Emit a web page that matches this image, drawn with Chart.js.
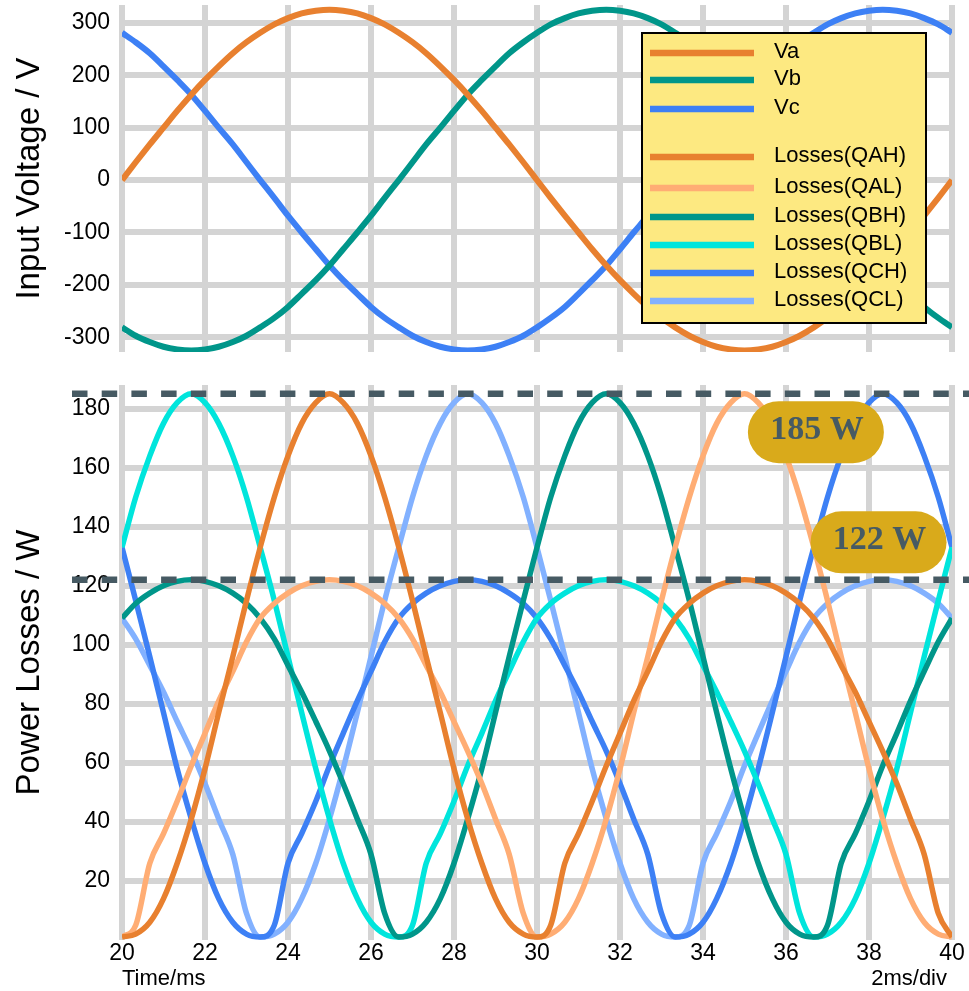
<!DOCTYPE html>
<html>
<head>
<meta charset="utf-8">
<title>Input voltage and switch losses</title>
<script src="https://cdn.jsdelivr.net/npm/chart.js@4.4.1/dist/chart.umd.min.js"></script>
<style>
  html, body { margin: 0; padding: 0; background: #fff; }
  #wrap { position: relative; width: 969px; height: 991px; overflow: hidden; }
  .panel { position: absolute; left: 0; width: 969px; }
  #panelV { top: 0; height: 362px; }
  #panelP { top: 362px; height: 629px; }
</style>
</head>
<body>
<div id="wrap">
  <div class="panel" id="panelV"><canvas id="chartV"></canvas></div>
  <div class="panel" id="panelP"><canvas id="chartP"></canvas></div>
</div>
<script>
// ---- data -------------------------------------------------------------
// sample instants (ms)
const timeMs = [20, 20.33, 20.67, 21, 21.33, 21.67, 22, 22.33, 22.67, 23, 23.33, 23.67, 24, 24.33, 24.67,
  25, 25.33, 25.67, 26, 26.33, 26.67, 27, 27.33, 27.67, 28, 28.33, 28.67, 29, 29.33, 29.67,
  30, 30.33, 30.67, 31, 31.33, 31.67, 32, 32.33, 32.67, 33, 33.33, 33.67, 34, 34.33, 34.67,
  35, 35.33, 35.67, 36, 36.33, 36.67, 37, 37.33, 37.67, 38, 38.33, 38.67, 39, 39.33, 39.67, 40];

// phase voltages (V)
const va = [0, 34, 68, 100, 132, 163, 191, 217, 242, 263, 281, 297, 309, 318, 323, 325, 323, 318, 309, 297,
  281, 263, 242, 217, 191, 163, 132, 100, 68, 34, 0, -34, -68, -100, -132, -163, -191, -217, -242, -263,
  -281, -297, -309, -318, -323, -325, -323, -318, -309, -297, -281, -263, -242, -217, -191, -163, -132, -100, -68, -34, 0];
const vb = [-281, -297, -309, -318, -323, -325, -323, -318, -309, -297, -281, -263, -242, -217, -191, -163, -132, -100, -68, -34,
  0, 34, 68, 100, 132, 163, 191, 217, 242, 263, 281, 297, 309, 318, 323, 325, 323, 318, 309, 297,
  281, 263, 242, 217, 191, 163, 132, 100, 68, 34, 0, -34, -68, -100, -132, -163, -191, -217, -242, -263, -281];
const vc = [281, 263, 242, 217, 191, 163, 132, 100, 68, 34, 0, -34, -68, -100, -132, -163, -191, -217, -242, -263,
  -281, -297, -309, -318, -323, -325, -323, -318, -309, -297, -281, -263, -242, -217, -191, -163, -132, -100, -68, -34,
  0, 34, 68, 100, 132, 163, 191, 217, 242, 263, 281, 297, 309, 318, 323, 325, 323, 318, 309, 297, 281];

// switch losses (W)
const lossQAH = [1, 2, 6, 14, 26, 41, 58, 77, 96, 115, 133, 150, 164, 175, 182, 185, 182, 175, 164, 150, 133, 115, 96, 77, 58, 41, 26, 14, 6, 2, 1,
  5, 26, 36, 47, 59, 70, 81, 91, 101, 109, 114, 117.5, 120, 121.5, 122, 121.5, 120, 117.5, 114, 109, 102, 93, 84, 74, 64, 53, 41, 29, 9, 1];
const lossQAL = [1, 5, 26, 36, 47, 59, 70, 81, 91, 101, 109, 114, 117.5, 120, 121.5, 122, 121.5, 120, 117.5, 114, 109, 102, 93, 84, 74, 64, 53, 41, 29, 9, 1,
  2, 6, 14, 26, 41, 58, 77, 96, 115, 133, 150, 164, 175, 182, 185, 182, 175, 164, 150, 133, 115, 96, 77, 58, 41, 26, 14, 6, 2, 1];
const lossQBH = [109, 114, 117.5, 120, 121.5, 122, 121.5, 120, 117.5, 114, 109, 102, 93, 84, 74, 64, 53, 41, 29, 9, 1,
  2, 6, 14, 26, 41, 58, 77, 96, 115, 133, 150, 164, 175, 182, 185, 182, 175, 164, 150, 133, 115, 96, 77, 58, 41, 26, 14, 6, 2, 1,
  5, 26, 36, 47, 59, 70, 81, 91, 101, 109];
const lossQBL = [133, 150, 164, 175, 182, 185, 182, 175, 164, 150, 133, 115, 96, 77, 58, 41, 26, 14, 6, 2, 1,
  5, 26, 36, 47, 59, 70, 81, 91, 101, 109, 114, 117.5, 120, 121.5, 122, 121.5, 120, 117.5, 114, 109, 102, 93, 84, 74, 64, 53, 41, 29, 9, 1,
  2, 6, 14, 26, 41, 58, 77, 96, 115, 133];
const lossQCH = [133, 115, 96, 77, 58, 41, 26, 14, 6, 2, 1,
  5, 26, 36, 47, 59, 70, 81, 91, 101, 109, 114, 117.5, 120, 121.5, 122, 121.5, 120, 117.5, 114, 109, 102, 93, 84, 74, 64, 53, 41, 29, 9, 1,
  2, 6, 14, 26, 41, 58, 77, 96, 115, 133, 150, 164, 175, 182, 185, 182, 175, 164, 150, 133];
const lossQCL = [109, 102, 93, 84, 74, 64, 53, 41, 29, 9, 1,
  2, 6, 14, 26, 41, 58, 77, 96, 115, 133, 150, 164, 175, 182, 185, 182, 175, 164, 150, 133, 115, 96, 77, 58, 41, 26, 14, 6, 2, 1,
  5, 26, 36, 47, 59, 70, 81, 91, 101, 109, 114, 117.5, 120, 121.5, 122, 121.5, 120, 117.5, 114, 109];

// tick values
const timeTicks = [20, 22, 24, 26, 28, 30, 32, 34, 36, 38, 40];
const voltTicks = [-300, -200, -100, 0, 100, 200, 300];
const lossTicks = [20, 40, 60, 80, 100, 120, 140, 160, 180];

// marked loss levels (W): peak of the hard- and soft-switched humps
const refLevels = [185, 122];

const voltLabels = ['Va', 'Vb', 'Vc'];
const lossLabels = ['Losses(QAH)', 'Losses(QAL)', 'Losses(QBH)', 'Losses(QBL)', 'Losses(QCH)', 'Losses(QCL)'];

// ---- styles -----------------------------------------------------------
const SANS = "'Liberation Sans', Arial, Helvetica, sans-serif";
const SERIF = "'Liberation Serif', 'Times New Roman', serif";
const GRID = '#d4d4d4';
const SLATE = '#465a63';
const GOLD = '#d9aa1b';
const voltColors = ['#e8802f', '#00968a', '#3d80f5'];
const lossColors = ['#e8802f', '#ffad74', '#00968a', '#00e5dc', '#3d80f5', '#82b1ff'];

const pts = (ys) => timeMs.map((t, i) => ({ x: t, y: ys[i] }));

function xScale(showLabels, height) {
  return {
    type: 'linear', min: 20, max: 40,
    afterBuildTicks: (s) => { s.ticks = timeTicks.map(v => ({ value: v })); },
    afterFit: (s) => { s.height = height; s.paddingLeft = 0; s.paddingRight = 0; },
    grid: { color: GRID, lineWidth: 6, drawTicks: false },
    border: { display: false },
    ticks: {
      display: showLabels, color: '#000', padding: 0,
      font: { family: SANS, size: 23 },
      maxRotation: 0, autoSkip: false,
      callback: (v) => String(v)
    }
  };
}

function yScale(min, max, tickVals, title) {
  return {
    type: 'linear', min: min, max: max,
    afterBuildTicks: (s) => { s.ticks = tickVals.map(v => ({ value: v })); },
    afterFit: (s) => { s.width = 122; s.paddingTop = 0; s.paddingBottom = 0; },
    grid: { color: GRID, lineWidth: 6, drawTicks: false },
    border: { display: false },
    ticks: {
      color: '#000', padding: 12,
      font: { family: SANS, size: 23 },
      callback: (v) => String(v)
    },
    title: {
      display: true, text: title, color: '#000',
      font: { family: SANS, size: 33 },
      padding: { top: 10, bottom: 0 }
    }
  };
}

// combined key for both panels, drawn over the voltage panel
const keyPlugin = {
  id: 'key',
  afterDraw(chart) {
    const ctx = chart.ctx;
    const entries = voltLabels.map((l, i) => ({ label: l, color: voltColors[i] }))
      .concat(lossLabels.map((l, i) => ({ label: l, color: lossColors[i] })));
    const rows = [53, 80, 109, 157, 188, 217, 245, 273, 301];
    ctx.save();
    ctx.fillStyle = '#fde981';
    ctx.fillRect(642, 33, 284, 290);
    ctx.strokeStyle = '#000';
    ctx.lineWidth = 2;
    ctx.strokeRect(642, 33, 284, 290);
    ctx.font = `22px ${SANS}`;
    ctx.textAlign = 'left';
    ctx.textBaseline = 'middle';
    entries.forEach((e, i) => {
      const y = rows[i];
      ctx.strokeStyle = e.color;
      ctx.lineWidth = 6.5;
      ctx.beginPath();
      ctx.moveTo(650, y);
      ctx.lineTo(754, y);
      ctx.stroke();
      ctx.fillStyle = '#000';
      ctx.fillText(e.label, 774, y - 1);
    });
    ctx.restore();
  }
};

function pillPath(ctx, cx, cy, w, h) {
  const r = h / 2;
  ctx.beginPath();
  ctx.moveTo(cx - w / 2 + r, cy - r);
  ctx.lineTo(cx + w / 2 - r, cy - r);
  ctx.arc(cx + w / 2 - r, cy, r, -Math.PI / 2, Math.PI / 2);
  ctx.lineTo(cx - w / 2 + r, cy + r);
  ctx.arc(cx - w / 2 + r, cy, r, Math.PI / 2, Math.PI * 1.5);
  ctx.closePath();
}

// dashed reference levels, their value badges and the time-axis notes
const levelPlugin = {
  id: 'levels',
  afterDatasetsDraw(chart) {
    const { ctx, scales } = chart;
    const x = scales.x, y = scales.y;
    const badgeAt = [{ t: 36.72, w: 172 }, { t: 38.23, w: 134.7 }];
    ctx.save();
    ctx.strokeStyle = SLATE;
    ctx.lineWidth = 6.5;
    ctx.setLineDash([15.5, 14.2]);
    refLevels.forEach(v => {
      const py = y.getPixelForValue(v);
      ctx.beginPath();
      ctx.moveTo(72, py);
      ctx.lineTo(chart.width, py);
      ctx.stroke();
    });
    ctx.setLineDash([]);
    refLevels.forEach((v, i) => {
      const cx = x.getPixelForValue(badgeAt[i].t);
      const cy = y.getPixelForValue(badgeAt[i].w);
      pillPath(ctx, cx, cy, 136, 62);
      ctx.fillStyle = GOLD;
      ctx.fill();
      ctx.fillStyle = SLATE;
      ctx.font = `bold 34px ${SERIF}`;
      ctx.textAlign = 'center';
      ctx.textBaseline = 'middle';
      ctx.fillText(`${v} W`, cx + 1, cy - 2);
    });
    ctx.fillStyle = '#000';
    ctx.font = `22px ${SANS}`;
    ctx.textBaseline = 'alphabetic';
    ctx.textAlign = 'left';
    ctx.fillText('Time/ms', x.left, 623);
    ctx.textAlign = 'right';
    ctx.fillText('2ms/div', x.right - 5, 623);
    ctx.restore();
  }
};

Chart.defaults.font.family = SANS;

new Chart(document.getElementById('chartV'), {
  type: 'line',
  data: {
    datasets: [va, vb, vc].map((s, i) => ({
      label: voltLabels[i], data: pts(s),
      borderColor: voltColors[i], borderWidth: 6,
      pointRadius: 0, fill: false, cubicInterpolationMode: 'monotone'
    }))
  },
  options: {
    responsive: true, maintainAspectRatio: false, animation: false, devicePixelRatio: 1,
    layout: { padding: { left: 0, right: 17, top: 5, bottom: 10 } },
    plugins: { legend: { display: false }, tooltip: { enabled: false } },
    scales: { x: xScale(false, 0), y: yScale(-328, 334, voltTicks, 'Input Voltage / V') }
  },
  plugins: [keyPlugin]
});

new Chart(document.getElementById('chartP'), {
  type: 'line',
  data: {
    datasets: [lossQAH, lossQAL, lossQBH, lossQBL, lossQCH, lossQCL].map((s, i) => ({
      label: lossLabels[i], data: pts(s),
      borderColor: lossColors[i], borderWidth: 5.5,
      pointRadius: 0, fill: false, cubicInterpolationMode: 'monotone'
    }))
  },
  options: {
    responsive: true, maintainAspectRatio: false, animation: false, devicePixelRatio: 1,
    layout: { padding: { left: 0, right: 17, top: 23, bottom: 0 } },
    plugins: { legend: { display: false }, tooltip: { enabled: false } },
    scales: { x: xScale(true, 51), y: yScale(0, 188, lossTicks, 'Power Losses / W') }
  },
  plugins: [levelPlugin]
});
</script>
</body>
</html>
